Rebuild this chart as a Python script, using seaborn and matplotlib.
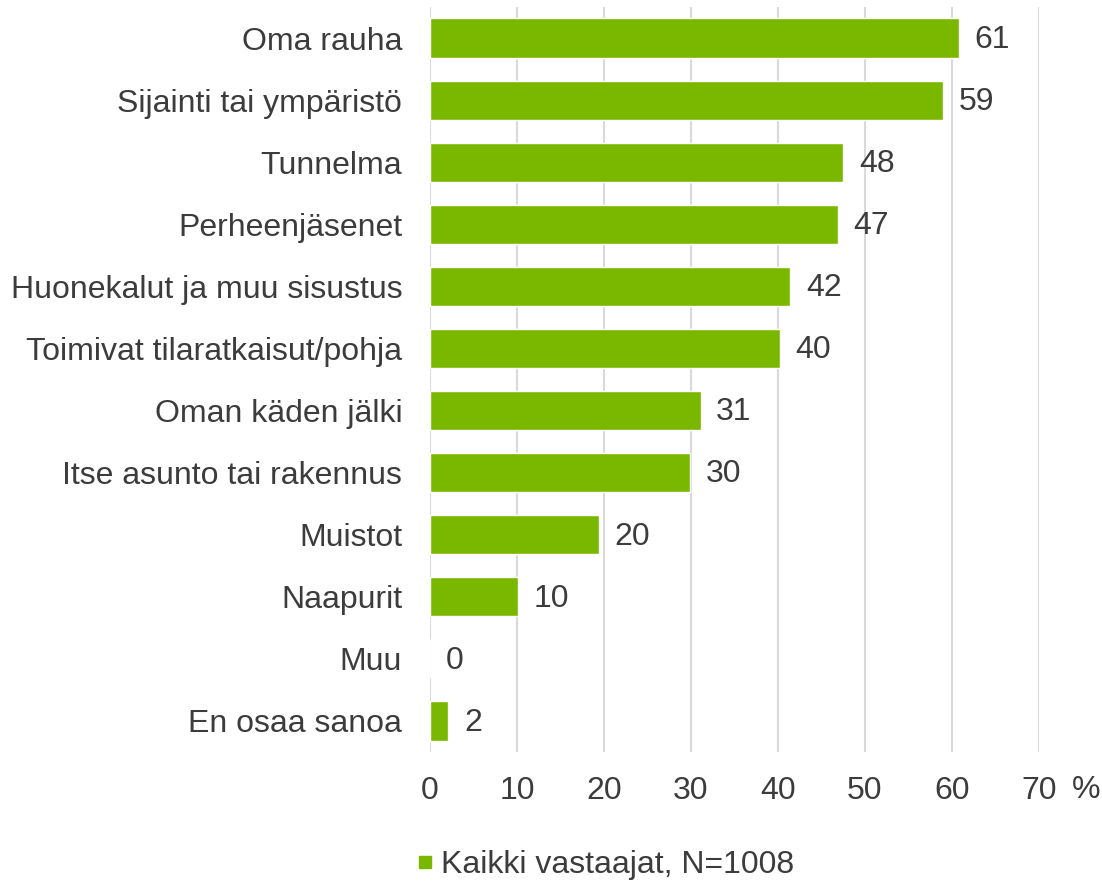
import numpy as np
import pandas as pd
import matplotlib
matplotlib.use("Agg")
import matplotlib.pyplot as plt
from matplotlib.lines import Line2D
import seaborn as sns

# vastaukset (osuus vastaajista, %)
categories = ["Oma rauha", "Sijainti tai ympäristö", "Tunnelma", "Perheenjäsenet",
              "Huonekalut ja muu sisustus", "Toimivat tilaratkaisut/pohja",
              "Oman käden jälki", "Itse asunto tai rakennus", "Muistot",
              "Naapurit", "Muu", "En osaa sanoa"]
values = [60.8, 59.0, 47.5, 46.9, 41.4, 40.2, 31.1, 29.9, 19.4, 10.1, 0.0, 2.1]
value_labels = ["61", "59", "48", "47", "42", "40", "31", "30", "20", "10", "0", "2"]
xticks = [0, 10, 20, 30, 40, 50, 60, 70]
legend_label = "Kaikki vastaajat, N=1008"

green = "#7ab800"
txt = "#3c3c3c"
fs = 23

sns.set_style("white")
plt.rcParams['font.family'] = ['Liberation Sans', 'DejaVu Sans']

df = pd.DataFrame({"kategoria": categories, "arvo": values})

fig = plt.figure(figsize=(11.02, 8.82), dpi=100)
ax = fig.add_axes([0.3902, 0.1474, 0.5526, 0.8447])

sns.barplot(data=df, y="kategoria", x="arvo", color=green, orient="h",
            width=0.63, saturation=1, ax=ax, zorder=3)

# arvot palkkien perään
for i, (v, lab) in enumerate(zip(values, value_labels)):
    ax.text(v + 1.8, i + 0.03, lab, va="center", ha="left", fontsize=fs, color=txt)

ax.set_xlim(0, 70)
ax.set_ylim(11.5, -0.5)
ax.set_xticks(xticks)
ax.set_xticklabels([str(t) for t in xticks], fontsize=fs, color=txt)
ax.tick_params(axis="x", pad=17, length=0)
ax.tick_params(axis="y", pad=20, length=0, labelsize=fs, labelcolor=txt)
ax.xaxis.grid(True, color="#d9d9d9", linewidth=1.5, zorder=0)
ax.yaxis.grid(False)
for s in ax.spines.values():
    s.set_visible(False)
ax.set_xlabel("")
ax.set_ylabel("")

# prosenttimerkki akselin perään
fig.text(0.9855, 0.1043, "%", fontsize=fs, color=txt, ha="center", va="center")

handle = Line2D([], [], marker="s", linestyle="", color=green, markersize=9)
fig.legend([handle], [legend_label], loc="center", bbox_to_anchor=(0.547, 0.019),
           frameon=False, fontsize=fs, handletextpad=0.1, handlelength=0.8,
           labelcolor=txt, borderpad=0.1)

fig.savefig("out.png", dpi=100)
